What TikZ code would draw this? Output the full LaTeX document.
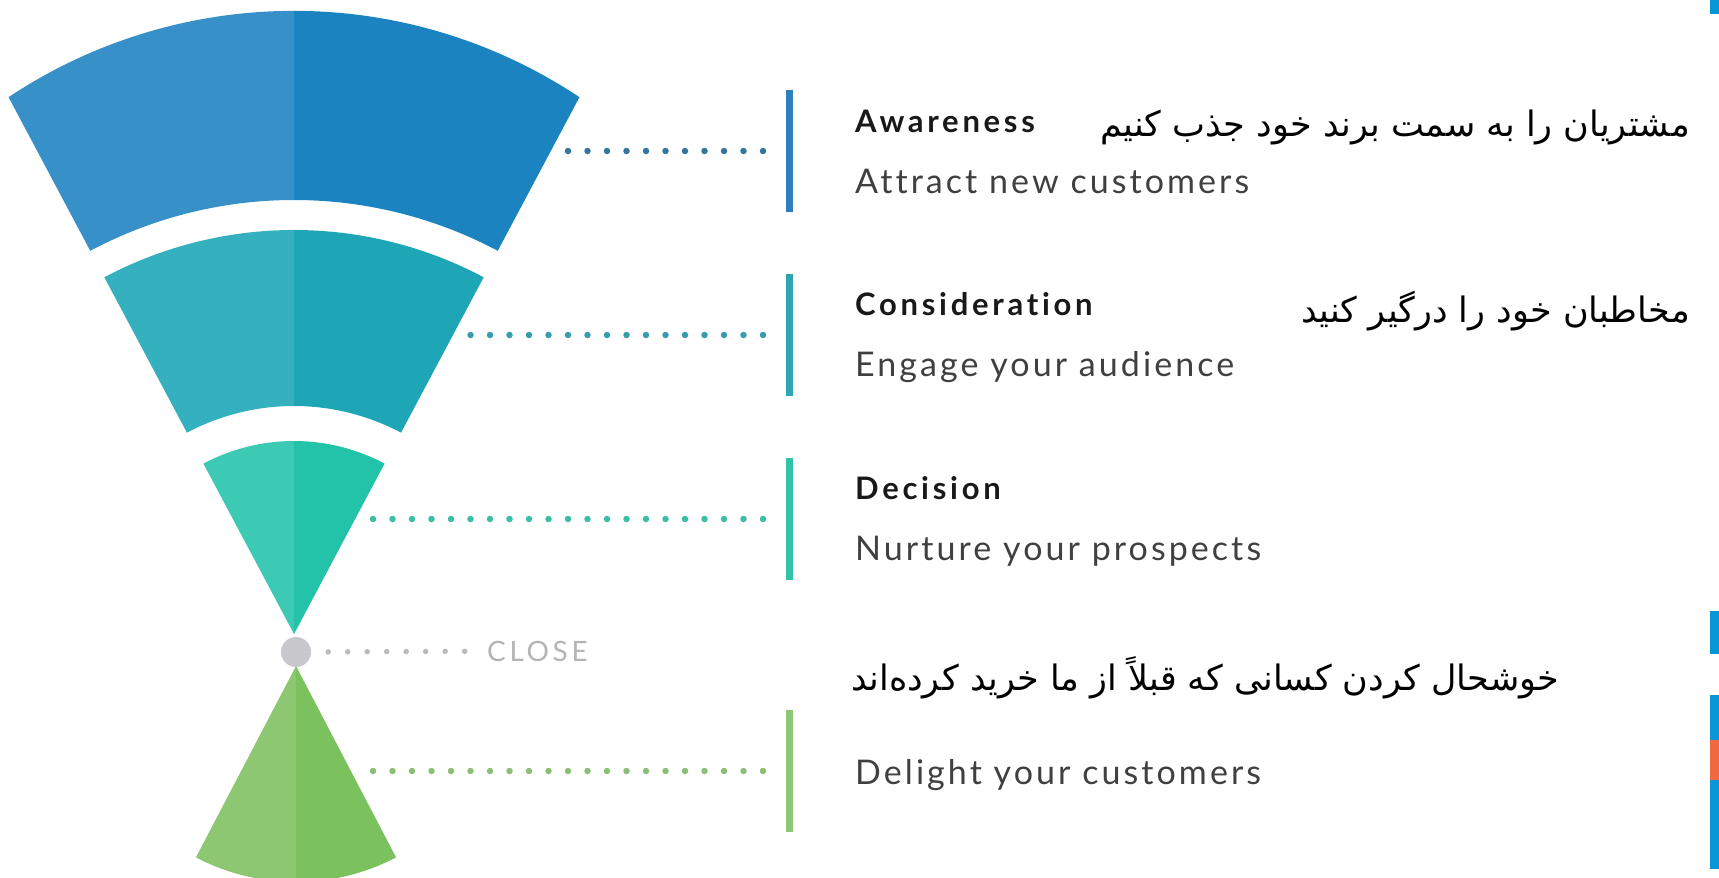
\documentclass[tikz,border=0pt]{standalone}
\usepackage{fontspec}
\setmainfont{Lato}
\newfontfamily\headfont[LetterSpace=12, Ligatures=NoCommon]{Lato}
\newfontfamily\subfont[LetterSpace=9, Ligatures=NoCommon]{Lato}
\newfontfamily\closefont[LetterSpace=13]{Lato}
\newfontfamily\persianfont[Script=Arabic]{DejaVu Sans}
\TeXXeTstate=1
\usepackage{tikz}
\definecolor{awareL}{RGB}{56,144,200}
\definecolor{awareR}{RGB}{27,131,192}
\definecolor{considL}{RGB}{52,176,190}
\definecolor{considR}{RGB}{30,166,182}
\definecolor{decideL}{RGB}{60,202,180}
\definecolor{decideR}{RGB}{34,195,168}
\definecolor{delightL}{RGB}{142,199,113}
\definecolor{delightR}{RGB}{123,194,94}
\definecolor{closegrey}{RGB}{200,200,204}
\definecolor{closedot}{RGB}{185,185,190}
\definecolor{closetext}{RGB}{180,180,184}
\definecolor{dotA}{RGB}{50,118,160}
\definecolor{dotB}{RGB}{55,157,172}
\definecolor{dotC}{RGB}{58,190,164}
\definecolor{dotD}{RGB}{140,190,120}
\definecolor{barA}{RGB}{45,128,188}
\definecolor{barB}{RGB}{45,165,178}
\definecolor{barC}{RGB}{50,196,168}
\definecolor{barD}{RGB}{140,198,118}
\definecolor{edgeblue}{RGB}{8,150,215}
\definecolor{edgeorange}{RGB}{240,105,65}

\begin{document}
\begin{tikzpicture}[x=1pt, y=1pt,
  title/.style={anchor=base west, inner sep=0pt, font=\headfont\fontsize{31}{36}\selectfont\bfseries, text=black!90},
  sub/.style={anchor=base west, inner sep=0pt, font=\subfont\fontsize{34}{40}\selectfont, text=black!75},
  fa/.style={anchor=east, inner sep=0pt, font=\persianfont\fontsize{35}{40}\selectfont, text=black},
  bar/.style={minimum width=7pt, minimum height=122pt, inner sep=0pt, outer sep=0pt},
  dots/.style={line width=6.5pt, line cap=round, dash pattern=on 0pt off 19.5pt}]
\useasboundingbox (0,0) rectangle (1719,-878);
\coordinate (cu) at (294,-634);
\coordinate (cd) at (296,-666);

% Awareness segment, light left half and dark right half
\fill[awareL] ([shift={(cu)}]118:608pt) arc[start angle=123.65, end angle=90, radius=515pt]
  -- ([shift={(cu)}]90:434pt) arc[start angle=90, end angle=118, radius=434pt] -- cycle;
\fill[awareR] ([shift={(cu)}]62:608pt) arc[start angle=56.35, end angle=90, radius=515pt]
  -- ([shift={(cu)}]90:434pt) arc[start angle=90, end angle=62, radius=434pt] -- cycle;

% Consideration segment
\fill[considL] ([shift={(cu)}]90:404pt) arc[start angle=90, end angle=118, radius=404pt]
  -- ([shift={(cu)}]118:228pt) arc[start angle=118, end angle=90, radius=228pt] -- cycle;
\fill[considR] ([shift={(cu)}]90:404pt) arc[start angle=90, end angle=62, radius=404pt]
  -- ([shift={(cu)}]62:228pt) arc[start angle=62, end angle=90, radius=228pt] -- cycle;

% Decision segment
\fill[decideL] (cu) -- ([shift={(cu)}]90:193pt) arc[start angle=90, end angle=118, radius=193pt] -- cycle;
\fill[decideR] (cu) -- ([shift={(cu)}]90:193pt) arc[start angle=90, end angle=62, radius=193pt] -- cycle;

% Delight segment, pointing down
\fill[delightL] (cd) -- ([shift={(cd)}]270:216pt) arc[start angle=270, end angle=242.4, radius=216pt] -- cycle;
\fill[delightR] (cd) -- ([shift={(cd)}]270:216pt) arc[start angle=270, end angle=297.6, radius=216pt] -- cycle;

% Close point
\node[circle, fill=closegrey, minimum size=30pt, inner sep=0pt] (close) at (296,-652) {};
\node[anchor=west, inner sep=0pt, font=\closefont\fontsize{28}{32}\selectfont, text=closetext] (closetxt) at (487,-651) {CLOSE};
\draw[dots, closedot, line width=5.5pt, shorten <=17pt, shorten >=20pt] (close) -- (closetxt);

% Bars
\node[bar, fill=barA] (b1) at (789,-151) {};
\node[bar, fill=barB] (b2) at (789,-335) {};
\node[bar, fill=barC] (b3) at (789,-519) {};
\node[bar, fill=barD] (b4) at (789,-771) {};

% Dotted lines from the funnel to the bars
\coordinate (d1) at (568,-151);
\coordinate (d2) at (470.5,-335);
\coordinate (d3) at (373,-519);
\coordinate (d4) at (373,-771);
\draw[dots, dotA, shorten >=22pt] (d1) -- (b1);
\draw[dots, dotB, shorten >=22pt] (d2) -- (b2);
\draw[dots, dotC, shorten >=22pt] (d3) -- (b3);
\draw[dots, dotD, shorten >=22pt] (d4) -- (b4);

% Texts
\node[title] (t1) at (855,-132) {Awareness};
\node[sub] (s1) at (855,-193) {Attract new customers};
\node[fa] (f1) at (1690,-127) {\beginR مشتریان را به سمت برند خود جذب کنیم\endR};

\node[title] (t2) at (855,-315) {Consideration};
\node[sub] (s2) at (855,-376) {Engage your audience};
\node[fa] (f2) at (1690,-311) {\beginR مخاطبان خود را درگیر کنید\endR};

\node[title] (t3) at (855,-499) {Decision};
\node[sub] (s3) at (855,-560) {Nurture your prospects};

\node[fa, anchor=west] (f4) at (851,-678) {\beginR خوشحال کردن کسانی که قبلاً از ما خرید کرده‌اند\endR};
\node[sub] (s4) at (855,-784) {Delight your customers};

% Edge strips on the right
\fill[edgeblue] (1710,0) rectangle (1719,-14);
\fill[edgeblue] (1710,-611) rectangle (1719,-654);
\fill[edgeblue] (1710,-695) rectangle (1719,-740);
\fill[edgeorange] (1710,-740) rectangle (1719,-780);
\fill[edgeblue] (1710,-780) rectangle (1719,-869);
\end{tikzpicture}
\end{document}
